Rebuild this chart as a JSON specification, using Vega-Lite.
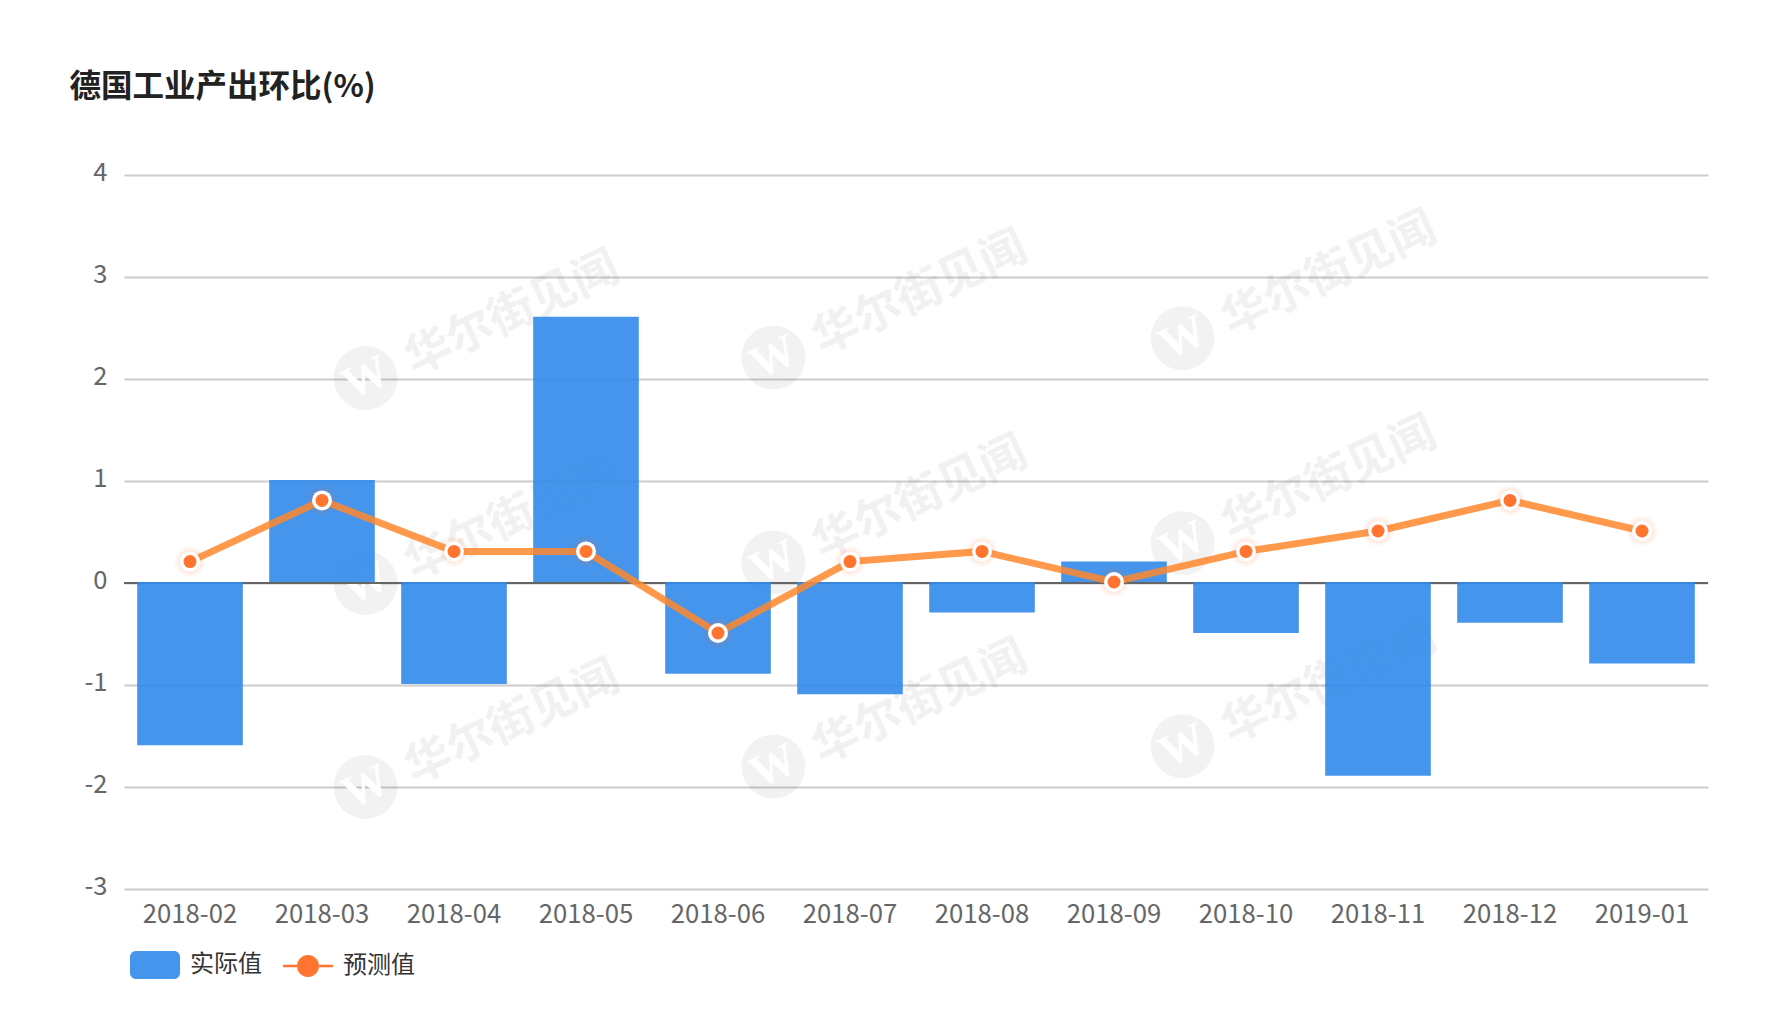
{
  "$schema": "https://vega.github.io/schema/vega-lite/v6.json",
  "width": 1584,
  "height": 714,
  "autosize": "none",
  "padding": {"left": 124, "top": 175, "right": 60, "bottom": 131},
  "background": "#ffffff",
  "title": {
    "text": "德国工业产出环比(%)",
    "anchor": "start",
    "frame": "group",
    "dx": -54.5,
    "offset": 57,
    "font": "Noto Sans CJK SC",
    "fontSize": 31.5,
    "fontWeight": "bold",
    "color": "#222222"
  },
  "config": {
    "view": {"stroke": null},
    "font": "Noto Sans CJK SC"
  },
  "datasets": {
    "monthly": [
      {"month": "2018-02", "series": "实际值", "value": -1.6},
      {"month": "2018-03", "series": "实际值", "value": 1.0},
      {"month": "2018-04", "series": "实际值", "value": -1.0},
      {"month": "2018-05", "series": "实际值", "value": 2.6},
      {"month": "2018-06", "series": "实际值", "value": -0.9},
      {"month": "2018-07", "series": "实际值", "value": -1.1},
      {"month": "2018-08", "series": "实际值", "value": -0.3},
      {"month": "2018-09", "series": "实际值", "value": 0.2},
      {"month": "2018-10", "series": "实际值", "value": -0.5},
      {"month": "2018-11", "series": "实际值", "value": -1.9},
      {"month": "2018-12", "series": "实际值", "value": -0.4},
      {"month": "2019-01", "series": "实际值", "value": -0.8},
      {"month": "2018-02", "series": "预测值", "value": 0.2},
      {"month": "2018-03", "series": "预测值", "value": 0.8},
      {"month": "2018-04", "series": "预测值", "value": 0.3},
      {"month": "2018-05", "series": "预测值", "value": 0.3},
      {"month": "2018-06", "series": "预测值", "value": -0.5},
      {"month": "2018-07", "series": "预测值", "value": 0.2},
      {"month": "2018-08", "series": "预测值", "value": 0.3},
      {"month": "2018-09", "series": "预测值", "value": 0.0},
      {"month": "2018-10", "series": "预测值", "value": 0.3},
      {"month": "2018-11", "series": "预测值", "value": 0.5},
      {"month": "2018-12", "series": "预测值", "value": 0.8},
      {"month": "2019-01", "series": "预测值", "value": 0.5}
    ],
    "watermark": [
      {"slot": 1.83, "level": 2.01, "label": "华尔街见闻", "logo": "W"},
      {"slot": 4.92, "level": 2.21, "label": "华尔街见闻", "logo": "W"},
      {"slot": 8.02, "level": 2.4, "label": "华尔街见闻", "logo": "W"},
      {"slot": 1.83, "level": 0.0, "label": "华尔街见闻", "logo": "W"},
      {"slot": 4.92, "level": 0.2, "label": "华尔街见闻", "logo": "W"},
      {"slot": 8.02, "level": 0.39, "label": "华尔街见闻", "logo": "W"},
      {"slot": 1.83, "level": -2.0, "label": "华尔街见闻", "logo": "W"},
      {"slot": 4.92, "level": -1.8, "label": "华尔街见闻", "logo": "W"},
      {"slot": 8.02, "level": -1.6, "label": "华尔街见闻", "logo": "W"}
    ]
  },
  "layer": [
    {
      "data": {"name": "watermark"},
      "encoding": {
        "x": {"field": "slot", "type": "quantitative", "scale": {"domain": [0, 12]}, "axis": null},
        "y": {
          "field": "level",
          "type": "quantitative",
          "scale": {"domain": [-3, 4], "nice": false},
          "axis": {
            "title": null,
            "values": [-3, -2, -1, 0, 1, 2, 3, 4],
            "labelExpr": "datum.value + ''",
            "labelFontSize": 25.5,
            "labelColor": "#666666",
            "labelPadding": 17,
            "labelOffset": -3,
            "domain": false,
            "ticks": false,
            "grid": true,
            "gridColor": "#cccccc",
            "gridWidth": 2,
            "gridOpacity": 1
          }
        }
      },
      "layer": [
        {"mark": {"type": "point", "filled": true, "color": "#000000", "opacity": 0.05, "size": 4096}},
        {
          "mark": {"type": "text", "font": "Liberation Serif", "fontWeight": "bold", "fontSize": 46, "color": "#ffffff", "opacity": 1, "angle": 335},
          "encoding": {"text": {"field": "logo"}}
        },
        {
          "mark": {"type": "text", "font": "Noto Sans CJK SC", "fontWeight": "bold", "fontSize": 46, "color": "#000000", "opacity": 0.05, "angle": 335, "dx": 160, "dy": 4},
          "encoding": {"text": {"field": "label"}}
        }
      ]
    },
    {
      "data": {"name": "monthly"},
      "layer": [
        {
          "mark": {"type": "rule", "color": "#666666", "strokeWidth": 2},
          "encoding": {
            "y": {"datum": 0, "type": "quantitative"}
          }
        },
        {
          "transform": [{"filter": "datum.series === '实际值'"}],
          "mark": {"type": "bar", "opacity": 0.9, "yOffset": -1},
          "encoding": {
            "x": {
              "field": "month",
              "type": "nominal",
              "sort": null,
              "scale": {"paddingInner": 0.2, "paddingOuter": 0.1},
              "axis": {
                "title": null,
                "labelAngle": 0,
                "labelFontSize": 25.7,
                "labelColor": "#666666",
                "labelPadding": 13,
                "domain": false,
                "ticks": false,
                "grid": false
              }
            },
            "y": {"field": "value", "type": "quantitative"},
            "color": {
              "field": "series",
              "type": "nominal",
              "scale": {"domain": ["实际值", "预测值"], "range": ["#308ae9", "#ff6619"]},
              "legend": {
                "title": null,
                "orient": "none",
                "legendX": 6,
                "legendY": 765,
                "direction": "horizontal",
                "columns": 2,
                "columnPadding": 21,
                "symbolSize": 2500,
                "symbolStrokeWidth": 0,
                "symbolOpacity": 0.9,
                "labelFontSize": 24,
                "labelColor": "#333333",
                "labelOffset": 10,
                "padding": 0
              }
            }
          }
        },
        {
          "transform": [{"filter": "datum.series === '预测值'"}],
          "encoding": {
            "x": {"field": "month", "type": "nominal", "sort": null},
            "y": {"field": "value", "type": "quantitative"}
          },
          "layer": [
            {"mark": {"type": "line", "color": "#ff882e", "opacity": 0.85, "strokeWidth": 7, "yOffset": -1}},
            {"mark": {"type": "point", "filled": true, "color": "#ff7530", "opacity": 0.06, "size": 900, "yOffset": -1}},
            {"mark": {"type": "point", "filled": true, "color": "#ff7530", "opacity": 0.08, "size": 625, "yOffset": -1}},
            {"mark": {"type": "point", "filled": true, "color": "#ffffff", "opacity": 1, "size": 400, "yOffset": -1}},
            {"mark": {"type": "point", "filled": true, "color": "#ff7530", "opacity": 1, "size": 169, "yOffset": -1}},
            {
              "mark": {"type": "point", "filled": true, "opacity": 0.9, "size": 0},
              "encoding": {
                "color": {
                  "field": "series",
                  "type": "nominal",
                  "legend": {
                    "title": null,
                    "orient": "none",
                    "legendX": 6,
                    "legendY": 765,
                    "direction": "horizontal",
                    "columns": 2,
                    "columnPadding": 21,
                    "symbolSize": 2500,
                    "symbolStrokeWidth": 0,
                    "symbolOpacity": 0.9,
                    "labelFontSize": 24,
                    "labelColor": "#333333",
                    "labelOffset": 10,
                    "padding": 0
                  }
                },
                "shape": {
                  "field": "series",
                  "type": "nominal",
                  "scale": {
                    "domain": ["实际值", "预测值"],
                    "range": [
                      "M-0.76,-0.56H0.76A0.24,0.24 0 0 1 1,-0.32V0.32A0.24,0.24 0 0 1 0.76,0.56H-0.76A0.24,0.24 0 0 1 -1,0.32V-0.32A0.24,0.24 0 0 1 -0.76,-0.56Z",
                      "M-1,-0.05H-0.44V0.05H-1ZM0.44,-0.05H1V0.05H0.44ZM-0.44,0A0.44,0.44 0 1 1 0.44,0A0.44,0.44 0 1 1 -0.44,0Z"
                    ]
                  },
                  "legend": {
                    "title": null,
                    "orient": "none",
                    "legendX": 6,
                    "legendY": 765,
                    "direction": "horizontal",
                    "columns": 2,
                    "columnPadding": 21,
                    "symbolSize": 2500,
                    "symbolStrokeWidth": 0,
                    "symbolOpacity": 0.9,
                    "labelFontSize": 24,
                    "labelColor": "#333333",
                    "labelOffset": 10,
                    "padding": 0
                  }
                }
              }
            }
          ]
        }
      ]
    }
  ],
  "resolve": {"scale": {"x": "independent"}}
}
